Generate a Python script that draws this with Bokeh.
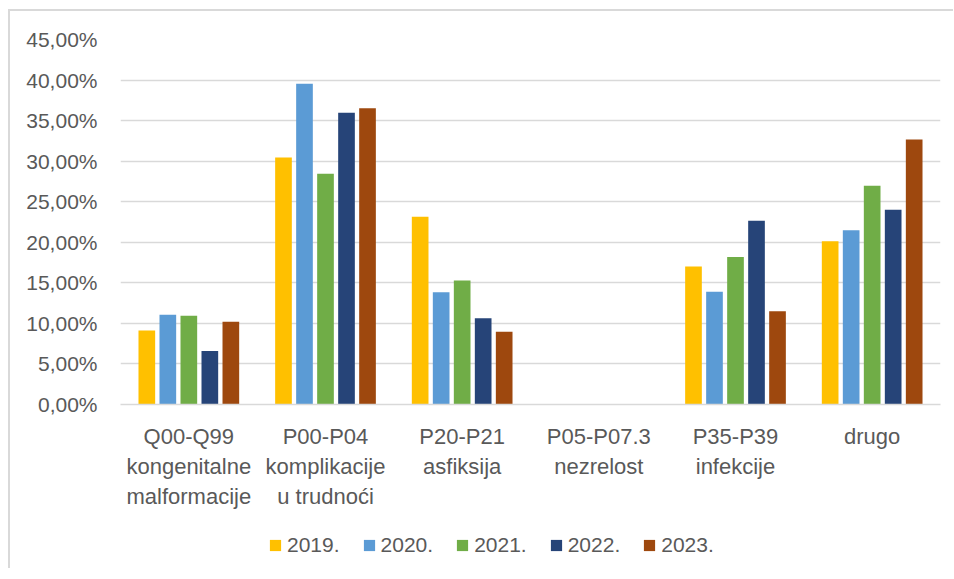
from bokeh.plotting import figure
from bokeh.layouts import column
from bokeh.models import (Legend, LegendItem, FixedTicker, Range1d, FactorRange,
                          ColumnDataSource)
from bokeh.transform import dodge
from bokeh.embed import file_html
from bokeh.resources import INLINE

categories = ["Q00-Q99\nkongenitalne\nmalformacije",
              "P00-P04\nkomplikacije\nu trudnoći",
              "P20-P21\nasfiksija",
              "P05-P07.3\nnezrelost",
              "P35-P39\ninfekcije",
              "drugo"]
years = ["2019.", "2020.", "2021.", "2022.", "2023."]
v2019 = [9.12, 30.45, 23.14, 0.0, 17.02, 20.14]
v2020 = [11.05, 39.53, 13.85, 0.0, 13.89, 21.49]
v2021 = [10.93, 28.44, 15.29, 0.0, 18.20, 26.96]
v2022 = [6.60, 35.96, 10.64, 0.0, 22.65, 24.00]
v2023 = [10.19, 36.53, 8.96, 0.0, 11.50, 32.68]
y_ticks = [0, 5, 10, 15, 20, 25, 30, 35, 40, 45]
y_tick_labels = ["0,00%", "5,00%", "10,00%", "15,00%", "20,00%",
                 "25,00%", "30,00%", "35,00%", "40,00%", "45,00%"]
colors = ["#FFC000", "#5B9BD5", "#70AD47", "#264478", "#9E480E"]

FONT = "Liberation Sans"
TXT = "#595959"

src = ColumnDataSource(dict(cat=categories, y2019=v2019, y2020=v2020,
                            y2021=v2021, y2022=v2022, y2023=v2023))
cols = ["y2019", "y2020", "y2021", "y2022", "y2023"]
pitch = 0.1537

# ---- main chart ----
p = figure(x_range=FactorRange(*categories), y_range=Range1d(0, 45),
           width=943, height=500, output_backend="svg", toolbar_location=None,
           min_border_left=110, min_border_top=28, min_border_right=13,
           min_border_bottom=107)
p.outline_line_color = None

for i, (c, col) in enumerate(zip(cols, colors)):
    p.vbar(x=dodge("cat", (i - 2) * pitch, range=p.x_range), top=c,
           width=0.122, source=src, fill_color=col, line_color=None)

p.ygrid.grid_line_color = "#d9d9d9"
p.ygrid.grid_line_width = 1.5
p.xgrid.visible = False

p.yaxis.ticker = FixedTicker(ticks=y_ticks)
p.yaxis.major_label_overrides = {t: l for t, l in zip(y_ticks, y_tick_labels)}
p.yaxis.axis_line_color = None
p.yaxis.major_tick_line_color = None
p.yaxis.minor_tick_line_color = None
p.yaxis.major_label_standoff = 17
p.yaxis.major_label_text_font = FONT
p.yaxis.major_label_text_font_size = "21px"
p.yaxis.major_label_text_color = TXT

p.xaxis.axis_line_color = "#d9d9d9"
p.xaxis.axis_line_width = 1.5
p.xaxis.major_tick_line_color = None
p.xaxis.minor_tick_line_color = None
p.xaxis.major_label_standoff = 13
p.xaxis.major_label_text_font = FONT
p.xaxis.major_label_text_font_size = "22px"
p.xaxis.major_label_text_color = TXT

# ---- legend strip ----
q = figure(x_range=FactorRange(*categories), y_range=Range1d(100, 101),
           width=943, height=57, output_backend="svg", toolbar_location=None,
           min_border=0, x_axis_location=None, y_axis_location=None)
q.outline_line_color = None
q.grid.visible = False
lrs = []
for i, (c, col) in enumerate(zip(cols, colors)):
    r = q.vbar(x=dodge("cat", (i - 2) * pitch, range=q.x_range), top=c,
               width=0.122, source=src, fill_color=col, line_color=None)
    lrs.append(r)

legend = Legend(items=[LegendItem(label=y, renderers=[r]) for y, r in zip(years, lrs)],
                orientation="horizontal", location=(148, 11),
                glyph_width=14, glyph_height=14, label_standoff=5, spacing=22,
                padding=0, margin=0, border_line_color=None,
                background_fill_alpha=0,
                label_text_font=FONT, label_text_font_size="21px",
                label_text_color=TXT)
q.add_layout(legend, "center")

layout = column(p, q, spacing=0,
                styles={"margin-left": "8px", "margin-top": "9px",
                        "border-left": "2px solid #d9d9d9",
                        "border-top": "2px solid #d9d9d9"})

open("out.html", "w").write(file_html(layout, INLINE))
